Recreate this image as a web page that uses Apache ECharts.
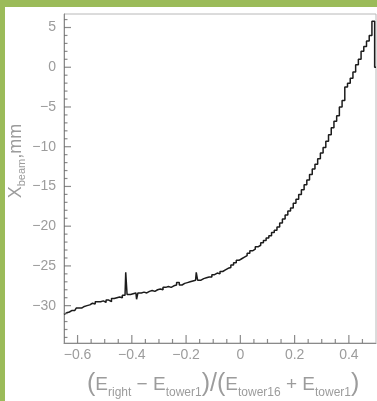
<!DOCTYPE html>
<html>
<head>
<meta charset="utf-8">
<script src="https://cdn.jsdelivr.net/npm/echarts@6/dist/echarts.min.js"></script>
<style>
  html, body { margin: 0; padding: 0; background: #9bbb59; }
  #wrap { position: absolute; left: 5px; top: 7px; width: 372px; height: 394px; background: #ffffff; }
  #chart { position: absolute; left: 0; top: 0; width: 377px; height: 401px; }
</style>
</head>
<body>
<div id="wrap"></div>
<div id="chart"></div>
<script>
// Beam position versus energy asymmetry (bin centres; finer bins around the narrow spikes)
const asymmetry = [
  -0.65, -0.64, -0.63, -0.62, -0.61, -0.60, -0.59, -0.58, -0.57, -0.56,
  -0.55, -0.54, -0.53, -0.52, -0.51, -0.50, -0.49, -0.48, -0.47, -0.46,
  -0.45, -0.44, -0.43, -0.425, -0.42, -0.415, -0.41, -0.40, -0.39, -0.385, -0.38, -0.375, -0.37, -0.36,
  -0.35, -0.34, -0.33, -0.32, -0.31, -0.30, -0.29, -0.28, -0.27, -0.26,
  -0.25, -0.24, -0.23, -0.22, -0.21, -0.20, -0.19, -0.18, -0.17, -0.165, -0.16, -0.155,
  -0.15, -0.14, -0.13, -0.12, -0.11, -0.10, -0.09, -0.08, -0.07, -0.06,
  -0.05, -0.04, -0.03, -0.02, -0.01, 0.00, 0.01, 0.02, 0.03, 0.04,
  0.05, 0.06, 0.07, 0.08, 0.09, 0.10, 0.11, 0.12, 0.13, 0.14,
  0.15, 0.16, 0.17, 0.18, 0.19, 0.20, 0.21, 0.22, 0.23, 0.24,
  0.25, 0.26, 0.27, 0.28, 0.29, 0.30, 0.31, 0.32, 0.33, 0.34,
  0.35, 0.36, 0.37, 0.38, 0.39, 0.40, 0.41, 0.42, 0.43, 0.44,
  0.45, 0.46, 0.47, 0.48, 0.49, 0.50
];
const xBeamMm = [
  -31.1, -30.9, -30.8, -30.6, -30.6, -30.3, -30.3, -30.1, -30.0, -29.9,
  -29.7, -29.8, -29.5, -29.5, -29.4, -29.6, -29.3, -29.5, -29.1, -29.0,
  -28.9, -29.0, -28.7, -28.7, -25.8, -28.6, -28.6, -28.5, -28.4, -28.4, -29.2, -28.4, -28.4, -28.3,
  -28.4, -28.2, -28.1, -28.2, -28.0, -27.9, -28.0, -27.7, -27.6, -27.7,
  -27.5, -27.4, -27.1, -27.4, -27.2, -27.1, -27.0, -26.9, -26.8, -26.8, -25.8, -26.8,
  -26.8, -26.6, -26.5, -26.4, -26.4, -26.1, -25.9, -26.0, -25.7, -25.5,
  -25.3, -25.2, -24.9, -24.6, -24.3, -24.1, -23.9, -23.7, -23.4, -23.1,
  -22.9, -22.6, -22.4, -22.1, -21.8, -21.5, -21.2, -20.8, -20.5, -20.1,
  -19.6, -19.1, -18.6, -18.1, -17.7, -17.1, -16.6, -16.0, -15.4, -14.8,
  -14.2, -13.5, -12.8, -12.2, -11.5, -10.8, -10.1, -9.3, -8.5, -7.6,
  -6.8, -6.1, -5.0, -4.2, -2.5, -2.0, -1.4, -0.6, 0.3, 1.0,
  2.0, 2.6, 3.3, 4.0, 5.8, 0.0
];

// Axis ranges and tick positions
const xRange = [-0.65, 0.5];
const yRange = [-34.7, 6.7];
const xMajorTicks = [-0.6, -0.4, -0.2, 0, 0.2, 0.4];
const xMinorTicks = [-0.55, -0.5, -0.45, -0.35, -0.3, -0.25, -0.15, -0.1,
  -0.05, 0.05, 0.1, 0.15, 0.25, 0.3, 0.35, 0.45];
const yMajorTicks = [-30, -25, -20, -15, -10, -5, 0, 5];
const yMinorTicks = [-34, -33, -32, -31, -29, -28, -27, -26, -24, -23, -22, -21,
  -19, -18, -17, -16, -14, -13, -12, -11, -9, -8, -7, -6, -4, -3, -2, -1,
  1, 2, 3, 4, 6];

const textGrey = '#9c9c9c';
const frameGrey = '#b8b8b8';
const tickGrey = '#6e6e6e';
const fontFamily = '"Liberation Sans", Arial, sans-serif';

const fmt = v => {
  const r = Math.round(v * 100) / 100;
  return String(r).replace('-', '\u2212');
};

// Inward-pointing tick marks along the bottom and left frame edges
const tickSeries = (points, size, offset) => ({
  type: 'scatter',
  data: points,
  symbol: 'rect',
  symbolSize: size,
  symbolOffset: offset,
  itemStyle: { color: tickGrey },
  silent: true,
  clip: false,
  emphasis: { disabled: true },
  z: 4
});

const chart = echarts.init(document.getElementById('chart'), null, { renderer: 'canvas' });

chart.setOption({
  animation: false,
  backgroundColor: 'transparent',
  grid: {
    left: 64, top: 14, right: 1, bottom: 58,
    show: true, borderColor: frameGrey, borderWidth: 1
  },
  xAxis: {
    type: 'value', min: xRange[0], max: xRange[1],
    axisLine: { show: true, onZero: false, lineStyle: { color: '#8a8a8a', width: 1 } },
    axisTick: { show: false },
    axisLabel: {
      show: true, customValues: xMajorTicks, margin: 5, color: textGrey,
      fontFamily: fontFamily, fontSize: 14, formatter: fmt
    },
    splitLine: { show: false }
  },
  yAxis: {
    type: 'value', min: yRange[0], max: yRange[1],
    axisLine: { show: true, onZero: false, lineStyle: { color: '#8a8a8a', width: 1 } },
    axisTick: { show: false },
    axisLabel: {
      show: true, customValues: yMajorTicks, margin: 8, color: textGrey,
      fontFamily: fontFamily, fontSize: 14, formatter: fmt
    },
    splitLine: { show: false }
  },
  series: [
    tickSeries(xMajorTicks.map(v => [v, yRange[0]]), [1.2, 8], [0, -4]),
    tickSeries(xMinorTicks.map(v => [v, yRange[0]]), [1.2, 4], [0, -2]),
    tickSeries(yMajorTicks.map(v => [xRange[0], v]), [7, 1.2], [3.5, 0]),
    tickSeries(yMinorTicks.map(v => [xRange[0], v]), [3.5, 1.2], [1.75, 0]),
    {
      type: 'line',
      data: asymmetry.map((x, i) => [x, xBeamMm[i]]),
      step: 'middle',
      showSymbol: false,
      lineStyle: { color: '#1c1c1c', width: 1.5 },
      clip: true,
      z: 3
    }
  ],
  graphic: [
    {
      type: 'text',
      left: 87, top: 372,
      style: {
        text: '{p|(}{e|E}{s|right}{e| \u2212 E}{s|tower1}{p|)/(}{e|E}{s|tower16}{e| + E}{s|tower1}{p|)}',
        fill: textGrey,
        fontFamily: fontFamily,
        rich: {
          p: { fontSize: 25, lineHeight: 28, verticalAlign: 'middle', fill: textGrey, fontFamily: fontFamily },
          e: { fontSize: 19, lineHeight: 22, verticalAlign: 'middle', fill: textGrey, fontFamily: fontFamily },
          s: { fontSize: 12, lineHeight: 13, verticalAlign: 'bottom', fill: textGrey, fontFamily: fontFamily }
        }
      }
    },
    {
      type: 'text',
      x: 16, y: 161,
      rotation: Math.PI / 2,
      style: {
        text: '{e|X}{s|beam}{e|,mm}',
        align: 'center', verticalAlign: 'middle',
        fill: textGrey,
        fontFamily: fontFamily,
        rich: {
          e: { fontSize: 18, lineHeight: 22, verticalAlign: 'middle', fill: textGrey, fontFamily: fontFamily },
          s: { fontSize: 11, lineHeight: 12, verticalAlign: 'bottom', fill: textGrey, fontFamily: fontFamily }
        }
      }
    }
  ]
});
</script>
</body>
</html>
